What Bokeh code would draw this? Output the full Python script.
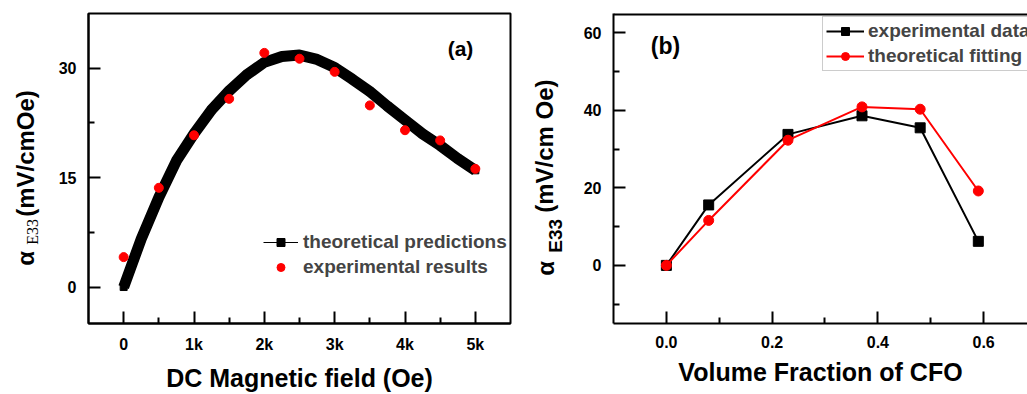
import math
from bokeh.plotting import figure
from bokeh.layouts import row
from bokeh.models import (FixedTicker, NumeralTickFormatter, Label, Legend, LegendItem,
                          Range1d, CDSView, IndexFilter, ColumnDataSource, Span)
from bokeh.embed import file_html
from bokeh.resources import INLINE

# ---------------- data: panel (a) ----------------
field_theory = [0, 250, 500, 750, 1000, 1250, 1500, 1750, 2000, 2250, 2500,
                2750, 3000, 3250, 3500, 3750, 4000, 4250, 4500, 4750, 5000]
alpha_theory = [0.0, 6.6, 12.3, 17.3, 21.0, 24.3, 26.9, 29.1, 30.8, 31.6, 31.8,
                31.2, 30.1, 28.5, 26.8, 24.8, 22.9, 21.0, 19.4, 17.6, 16.0]
field_exp = [0, 500, 1000, 1500, 2000, 2500, 3000, 3500, 4000, 4500, 5000]
alpha_exp = [4.1, 13.6, 20.8, 25.8, 32.1, 31.3, 29.5, 24.9, 21.5, 20.1, 16.2]

# ---------------- data: panel (b) ----------------
cfo_fraction = [0.0, 0.08, 0.23, 0.37, 0.48, 0.59]
alpha_measured = [0.0, 15.6, 33.8, 38.6, 35.5, 6.2]
alpha_fitted = [0.0, 11.6, 32.3, 40.9, 40.3, 19.2]

FONT = "Liberation Sans"
RED = "#ff0000"
H = 394
TOP = 13          # frame top (px)
BOTTOM_BORDER = 70
FRAME_BOTTOM = H - BOTTOM_BORDER
HALF = math.pi / 2


def style_axes(p, xmaj, xmin, ymaj, ymin, xtitle, title_standoff):
    p.grid.visible = False
    p.background_fill_color = "white"
    p.border_fill_color = "white"
    for ax, maj, mn in ((p.xaxis[0], xmaj, xmin), (p.yaxis[0], ymaj, ymin)):
        ax.ticker = FixedTicker(ticks=maj, minor_ticks=mn)
        ax.axis_line_width = 2
        ax.axis_line_color = "black"
        ax.major_tick_in = 12
        ax.major_tick_out = 0
        ax.minor_tick_in = 6
        ax.minor_tick_out = 0
        ax.major_tick_line_width = 2
        ax.minor_tick_line_width = 2
        ax.major_label_text_font = FONT
        ax.major_label_text_font_style = "bold"
        ax.major_label_text_font_size = "16px"
        ax.major_label_text_color = "black"
        ax.major_label_standoff = 12
    p.yaxis[0].axis_label = None
    xa = p.xaxis[0]
    xa.axis_label = xtitle
    xa.axis_label_text_font = FONT
    xa.axis_label_text_font_style = "bold"
    xa.axis_label_text_font_size = "25px"
    xa.axis_label_text_color = "black"
    xa.axis_label_standoff = title_standoff


def label_column(width):
    # a bare canvas that only carries the rotated y-axis title pieces;
    # its ranges are set so that one data unit is one screen pixel
    f = figure(width=width, height=H, output_backend="svg", toolbar_location=None,
               x_range=Range1d(0, width), y_range=Range1d(FRAME_BOTTOM, TOP),
               x_axis_type=None, y_axis_type=None,
               min_border_left=0, min_border_right=0,
               min_border_top=TOP, min_border_bottom=BOTTOM_BORDER)
    f.outline_line_color = None
    f.grid.visible = False
    return f


def add_text(p, text, x, y, size, angle=0.0, align="left", baseline="middle",
             font=FONT, style="bold"):
    p.add_layout(Label(x=x, y=y, text=text, angle=angle, angle_units="rad",
                       text_align=align, text_baseline=baseline, text_font=font,
                       text_font_style=style, text_font_size=f"{size}px",
                       text_color="black"))


# ================= y-title column for (a) =================
la = label_column(50)
add_text(la, "α", 25, 266, 24, angle=HALF)
add_text(la, "E33", 32, 245, 16, angle=HALF, font="Liberation Serif", style="normal")
add_text(la, "(mV/cmOe)", 25, 217, 24, angle=HALF)

# ================= panel (a) =================
pa = figure(width=475, height=H, output_backend="svg", toolbar_location=None,
            x_range=Range1d(-500, 5500), y_range=Range1d(-5, 37.5),
            min_border_left=38, min_border_right=15, min_border_top=TOP,
            min_border_bottom=BOTTOM_BORDER)
pa.outline_line_color = "black"
pa.outline_line_width = 2
style_axes(pa, [0, 1000, 2000, 3000, 4000, 5000], [500, 1500, 2500, 3500, 4500],
           [0, 15, 30], [7.5, 22.5], "DC Magnetic field (Oe)", 8)
pa.xaxis[0].formatter = NumeralTickFormatter(format="0a")

src_th = ColumnDataSource(dict(x=field_theory, y=alpha_theory))
src_ex = ColumnDataSource(dict(x=field_exp, y=alpha_exp))

pa.line("x", "y", source=src_th, line_color="black", line_width=11, line_join="round")
th_sq = pa.scatter("x", "y", source=src_th, marker="square", size=7,
                   fill_color="black", line_color="black")
th_line = pa.line("x", "y", source=src_th, line_color="black", line_width=1)
ex_line = pa.line("x", "y", source=src_ex, line_color=RED, line_width=1,
                  line_dash="3 3", view=CDSView(filter=IndexFilter(indices=[])))
ex_dot = pa.scatter("x", "y", source=src_ex, marker="circle", size=9,
                    fill_color=RED, line_color=RED)

leg_a = Legend(items=[LegendItem(label="theoretical predictions", renderers=[th_line, th_sq]),
                      LegendItem(label="experimental results", renderers=[ex_line, ex_dot])],
               location=(175, 45), padding=0, margin=0, spacing=3,
               glyph_width=35, glyph_height=20, label_standoff=5,
               label_text_font=FONT, label_text_font_style="bold",
               label_text_font_size="19px", border_line_color=None,
               background_fill_alpha=0)
pa.add_layout(leg_a)
pa.add_layout(Label(x=pa.x_range.end, y=pa.y_range.end, x_offset=-50, y_offset=-35,
                    text="(a)", text_align="center", text_baseline="middle",
                    text_font=FONT, text_font_style="bold", text_font_size="21px",
                    text_color="black"))

# ================= y-title column for (b) =================
lb = label_column(45)
add_text(lb, "α", 20, 276, 24, angle=HALF)
add_text(lb, "E33", 30, 253, 19, angle=HALF)
add_text(lb, "(mV/cm Oe)", 19, 213, 24, angle=HALF)

# ================= panel (b) =================
pb = figure(width=457, height=H, output_backend="svg", toolbar_location=None,
            x_range=Range1d(-0.1, 0.683), y_range=Range1d(-15, 65),
            min_border_left=43, min_border_right=0, min_border_top=TOP,
            min_border_bottom=BOTTOM_BORDER)
pb.outline_line_color = None
style_axes(pb, [0.0, 0.2, 0.4, 0.6], [0.1, 0.3, 0.5],
           [0, 20, 40, 60], [-10, 10, 30, 50], "Volume Fraction of CFO", 7)
pb.xaxis[0].formatter = NumeralTickFormatter(format="0.0")
pb.add_layout(Span(location=65, dimension="width", line_color="black", line_width=4))

src_m = ColumnDataSource(dict(x=cfo_fraction, y=alpha_measured))
src_f = ColumnDataSource(dict(x=cfo_fraction, y=alpha_fitted))
m_line = pb.line("x", "y", source=src_m, line_color="black", line_width=2)
m_sq = pb.scatter("x", "y", source=src_m, marker="square", size=10,
                  fill_color="black", line_color="black")
f_line = pb.line("x", "y", source=src_f, line_color=RED, line_width=2)
f_dot = pb.scatter("x", "y", source=src_f, marker="circle", size=10,
                   fill_color=RED, line_color=RED)

leg_b = Legend(items=[LegendItem(label="experimental data", renderers=[m_line, m_sq]),
                      LegendItem(label="theoretical fitting", renderers=[f_line, f_dot])],
               location=(209, 252), padding=3, margin=0, spacing=3,
               glyph_width=38, glyph_height=20, label_standoff=4,
               label_text_font=FONT, label_text_font_style="bold",
               label_text_font_size="19px", border_line_color="#999999",
               border_line_width=1, background_fill_color="white")
pb.add_layout(leg_b)
pb.add_layout(Label(x=pb.x_range.start, y=pb.y_range.end, x_offset=52, y_offset=-32,
                    text="(b)", text_align="center", text_baseline="middle",
                    text_font=FONT, text_font_style="bold", text_font_size="23px",
                    text_color="black"))

layout = row(la, pa, lb, pb)
open("out.html", "w").write(file_html(layout, INLINE))
